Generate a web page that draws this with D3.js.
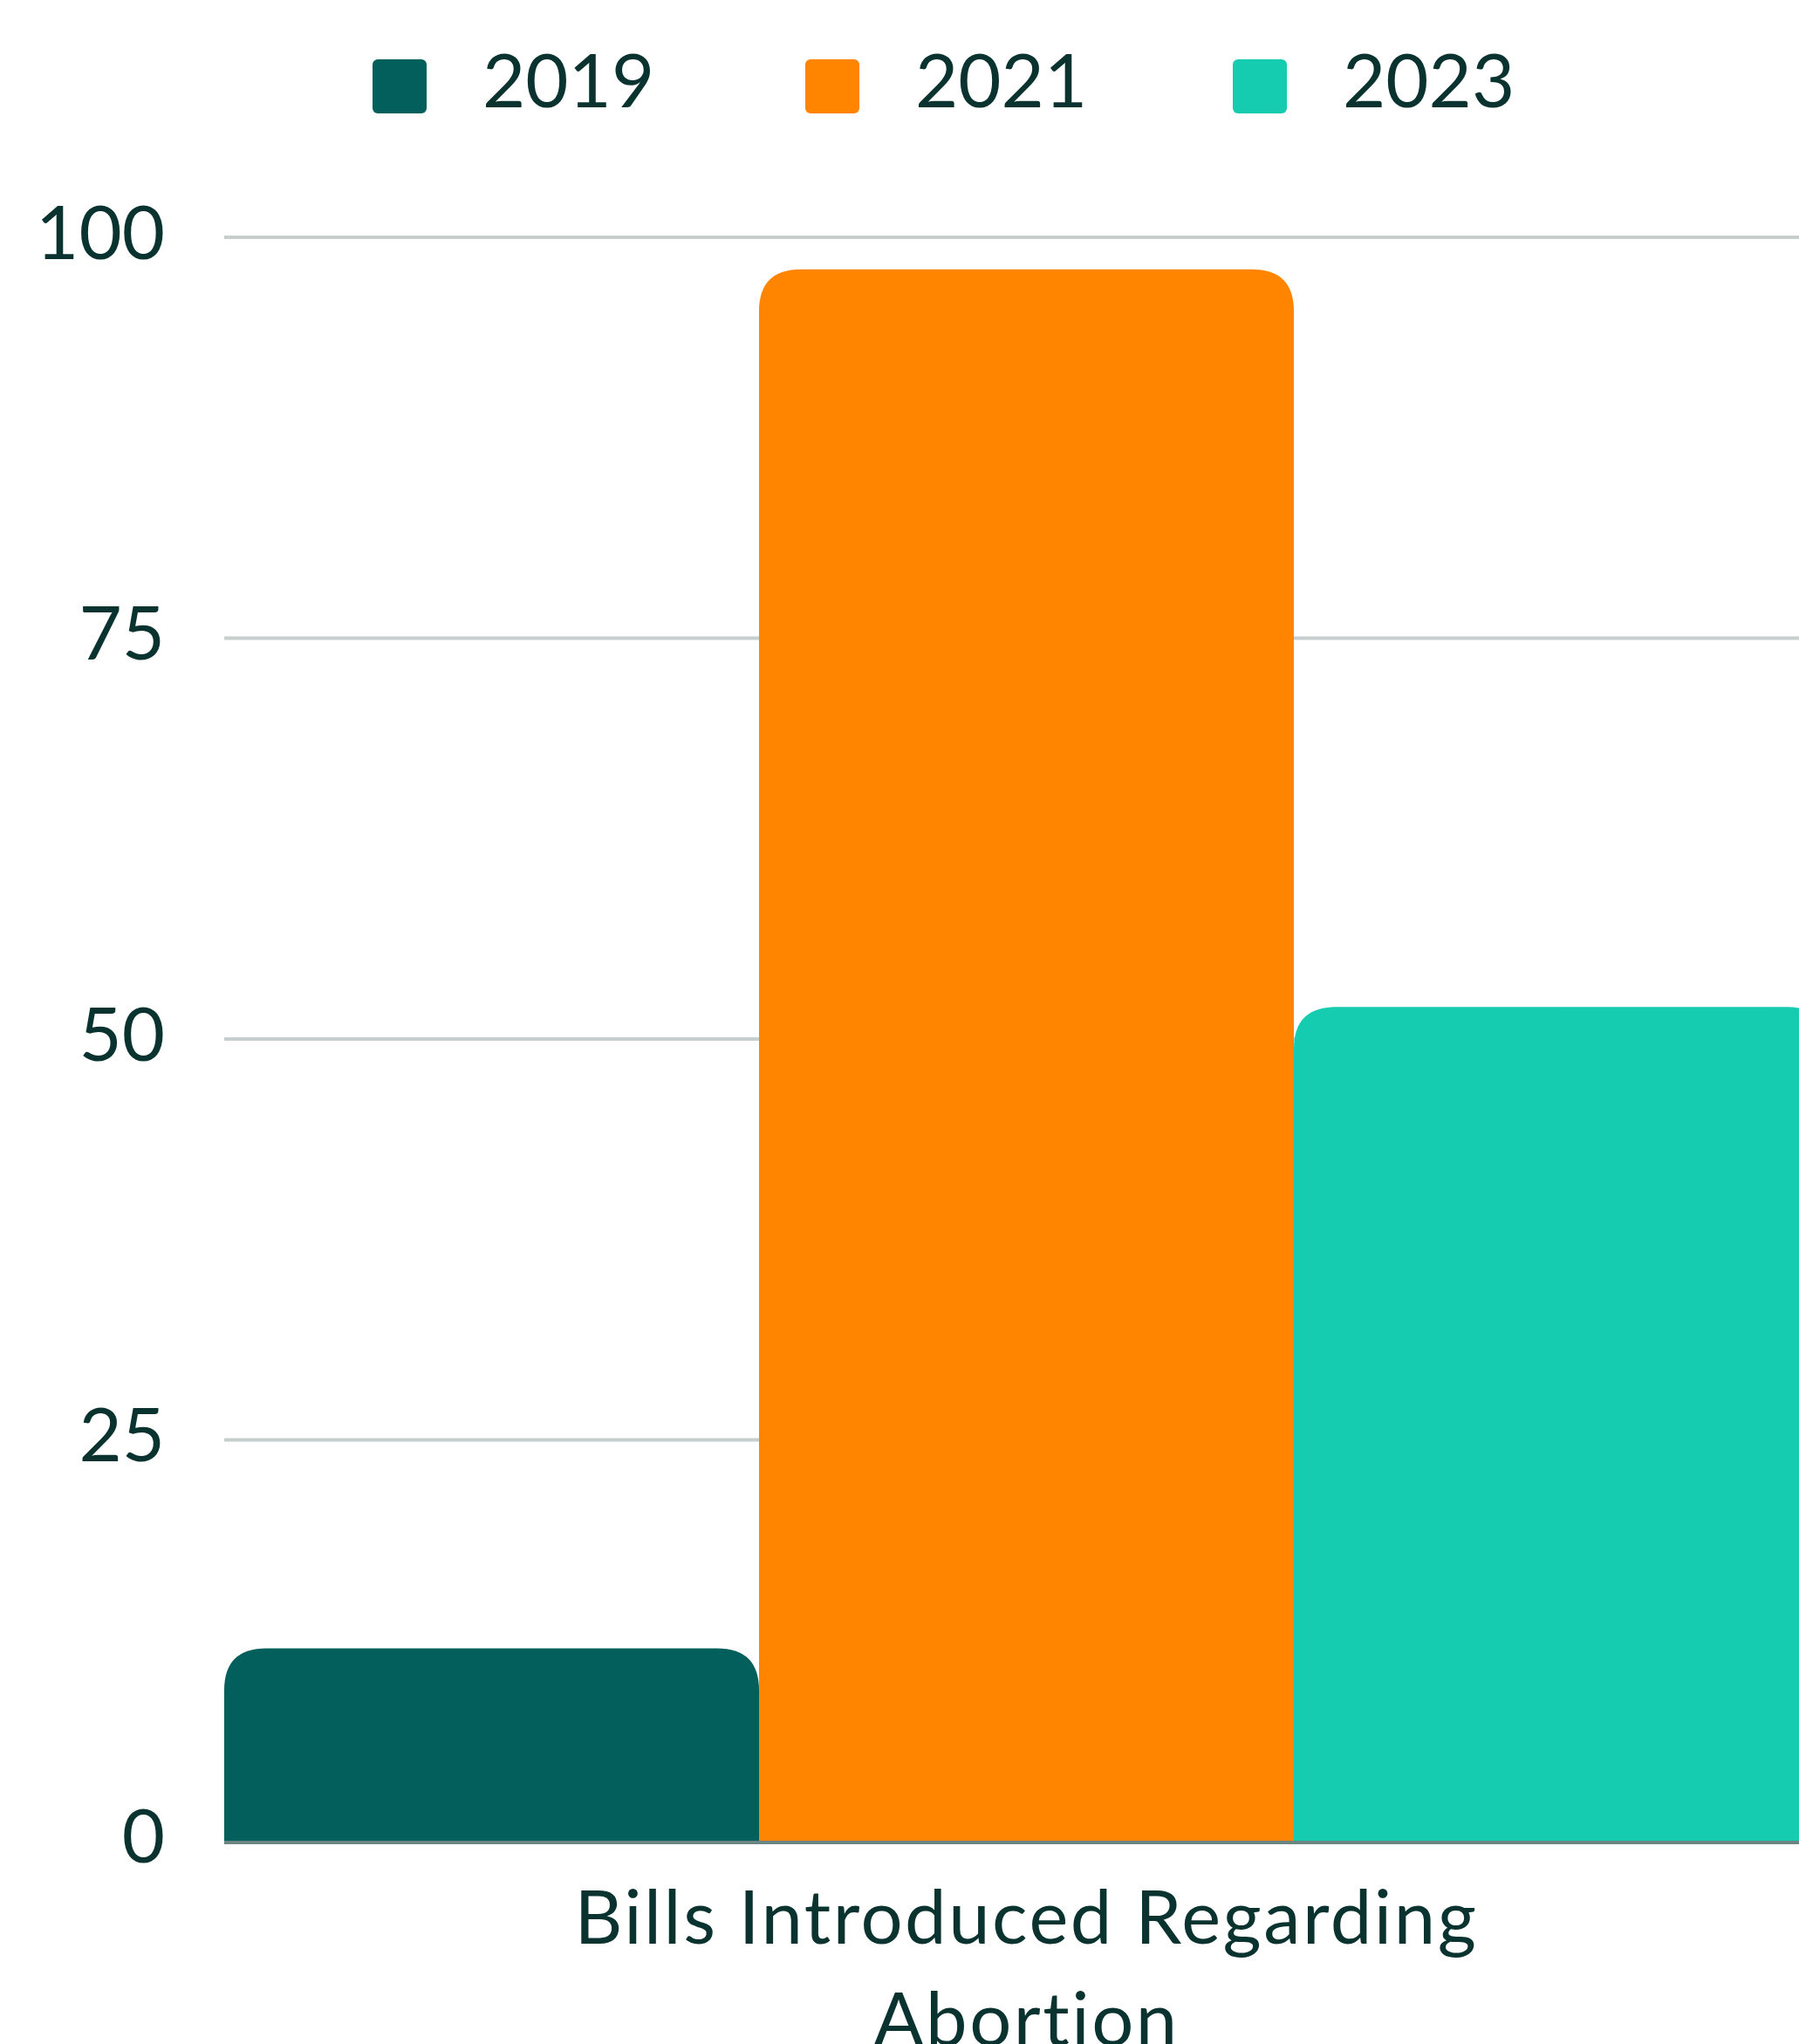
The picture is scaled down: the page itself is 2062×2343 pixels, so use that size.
<!DOCTYPE html>
<html>
<head>
<meta charset="utf-8">
<script src="https://cdn.jsdelivr.net/npm/d3@7"></script>
<style>
  html, body { margin: 0; padding: 0; background: #fff; overflow: hidden; }
  text { font-family: "Lato", "Inter", sans-serif; fill: #0a3330; font-variant-ligatures: none; }
</style>
</head>
<body>
<div id="chart"></div>
<script>
const categories = ['Bills Introduced Regarding Abortion'];
const seriesNames = ['2019', '2021', '2023'];
const seriesValues = [12, 98, 52];
const colors = ['#025f5b', '#ff8500', '#15ccb0'];
const yTicks = [0, 25, 50, 75, 100];

const w = 2062;
const h = 2343;
const plotLeft = 257;
const plotRight = 2096;   // plot runs past the window edge
const plotTop = 272;
const plotBottom = 2110;

const svg = d3.select('#chart')
    .append('svg')
    .attr('width', w)
    .attr('height', h);

const y = d3.scaleLinear().domain([0, 100]).range([plotBottom, plotTop]);
const x0 = d3.scaleBand().domain(categories).range([plotLeft, plotRight]).padding(0);
const x1 = d3.scaleBand().domain(seriesNames).range([0, x0.bandwidth()]).padding(0);

// gridlines
svg.append('g')
    .selectAll('line')
    .data(yTicks.filter(d => d > 0))
    .enter()
    .append('line')
    .attr('x1', plotLeft)
    .attr('x2', w)
    .attr('y1', d => y(d))
    .attr('y2', d => y(d))
    .attr('stroke', '#c6cfcd')
    .attr('stroke-width', 4);

// y labels
const yAxis = d3.axisLeft(y).tickValues(yTicks).tickSize(0).tickPadding(0);
const gy = svg.append('g')
    .attr('transform', `translate(${plotLeft - 68}, 0)`)
    .call(yAxis);
gy.select('.domain').remove();
gy.selectAll('text')
    .attr('dy', 24)
    .attr('font-size', 85)
    .style('font-family', '"Lato", sans-serif')
    .style('fill', '#0a3330');

// bars with rounded top corners
const r = 48;
const barPath = (x, yTop, bw, yBase) => {
    const rr = Math.min(r, (yBase - yTop), bw / 2);
    return `M${x},${yBase} L${x},${yTop + rr} Q${x},${yTop} ${x + rr},${yTop}
        L${x + bw - rr},${yTop} Q${x + bw},${yTop} ${x + bw},${yTop + rr} L${x + bw},${yBase} Z`;
};

const gBars = svg.append('g').attr('transform', `translate(${x0(categories[0])}, 0)`);
gBars.selectAll('path')
    .data(seriesNames)
    .enter()
    .append('path')
    .attr('d', (d, i) => barPath(x1(d), y(seriesValues[i]), x1.bandwidth(), y(0)))
    .attr('fill', (d, i) => colors[i]);

// baseline
svg.append('line')
    .attr('x1', plotLeft)
    .attr('x2', w)
    .attr('y1', y(0) + 2)
    .attr('y2', y(0) + 2)
    .attr('stroke', '#6b8583')
    .attr('stroke-width', 4);

// x category label, wrapped in two lines
const xLabel = svg.append('text')
    .attr('text-anchor', 'middle')
    .attr('font-size', 85)
    .attr('letter-spacing', 2.5);
const lines = ['Bills Introduced Regarding', 'Abortion'];
lines.forEach((t, i) => {
    xLabel.append('tspan')
        .attr('x', x0(categories[0]) + x0.bandwidth() / 2)
        .attr('y', 2228 + i * 117)
        .text(t);
});

// legend
const legendX = [427, 923, 1413];
const legend = svg.append('g');
seriesNames.forEach((name, i) => {
    legend.append('rect')
        .attr('x', legendX[i])
        .attr('y', 68)
        .attr('width', 62)
        .attr('height', 62)
        .attr('rx', 6)
        .attr('fill', colors[i]);
    legend.append('text')
        .attr('x', legendX[i] + 126)
        .attr('y', 123)
        .attr('font-size', 85)
        .text(name);
});
</script>
</body>
</html>
